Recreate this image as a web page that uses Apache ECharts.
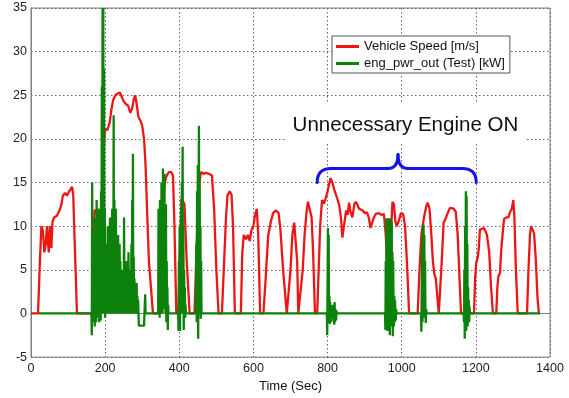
<!DOCTYPE html>
<html>
<head>
<meta charset="UTF-8">
<title>Vehicle speed and engine power</title>
<script src="https://cdn.jsdelivr.net/npm/echarts@6/dist/echarts.min.js"></script>
<style>
  html, body { margin: 0; padding: 0; background: #fff; }
  #main { width: 569px; height: 398px; }
</style>
</head>
<body>
<div id="main"></div>
<script>
// vehicle speed [m/s], pairs of [time s, value]
var speedData = [
  [0,0],[19,0],[24,6],[28,10],[32,9.5],[36,7],[40,8],[43,10],[46,8],[48,7],[51,10],[53,9],[55,7.5],[58,10.5],
  [62,11],[70,11.2],[77,11.8],[82,12.5],[86,13.5],[92,13.8],[97,13.5],[103,14],[108,13.8],[111,14.5],[114,13.5],
  [118,8],[124,0],[165,0],[169,10],[172,11.9],[175,11.8],[178,11.3],[181,12],[184,9],[186,7],[190,12],[195,18],
  [200,21.2],[206,21],[212,21.8],[217,23.4],[222,24.5],[228,25],[234,25.2],[240,25.3],[245,24.8],[250,24.3],
  [256,24],[262,23.8],[268,23],[273,23.5],[277,24.5],[281,25],[285,24],[290,22.5],[296,22],[300,21.5],[305,20],
  [309,17],[313,12],[318,6],[329,0],[347,0],[352,7],[357,13],[361,15],[366,15.8],[372,16.2],[378,16.2],[383,15.8],
  [387,10],[392,0],[398,0],[402,8],[406,13.2],[410,13],[414,12.5],[420,6],[428,0],[441,0],[447,8],[452,14],
  [458,16.2],[465,16],[472,16.1],[480,16],[488,15.8],[494,12],[500,5],[506,0],[515,0],[521,6],[526,11],[530,13.5],
  [536,14],[541,13.6],[545,10],[550,0],[566,0],[570,7],[574,9],[580,8.5],[585,9],[590,8.3],[595,9.6],[600,10],
  [604,11.2],[609,12],[613,9],[618,0],[627,0],[633,4],[640,9],[647,10.5],[653,11.5],[660,11.8],[664,11.9],
  [668,11.5],[673,9.5],[680,5],[690,0],[694,0],[700,5],[705,9],[710,10.4],[714,10.2],[718,6],[721,0],[726,0],
  [733,5],[738,9],[743,11.5],[747,12.8],[752,12.6],[757,11],[761,7],[766,0],[772,0],[776,5],[780,10],[785,13],
  [790,12.6],[795,13.2],[800,14],[804,14.8],[808,15.5],[813,15],[818,14.2],[822,14],[826,13.2],[831,12.5],
  [836,11],[840,8.7],[845,10.3],[850,11.8],[854,11.3],[858,12.7],[862,11.6],[867,11],[872,12.5],[876,12.8],
  [880,12.5],[885,12],[890,12.2],[895,11.8],[900,11.5],[906,11.6],[911,11],[916,9.8],[921,10.5],[925,11],
  [930,11.4],[938,11.5],[945,11.3],[952,11.4],[957,9],[962,4],[966,0],[969,4],[972,10],[975,12.8],[979,12.5],
  [983,10.5],[987,10],[992,10.6],[998,11.5],[1004,11.4],[1009,10],[1014,6],[1020,0],[1043,0],[1048,5],[1053,9],
  [1060,11],[1066,12.2],[1070,12.7],[1075,12],[1080,9],[1084,6],[1088,4.5],[1092,4],[1096,2],[1100,0],[1103,0],
  [1108,6],[1113,10.4],[1118,10.8],[1124,11.5],[1130,12.1],[1135,12.3],[1140,12],[1146,11.6],[1151,9],[1156,4],
  [1160,0],[1195,0],[1198,4],[1201,5.8],[1205,6.4],[1208,7.5],[1211,9.6],[1216,9.8],[1222,9.8],[1226,9.4],
  [1230,9],[1236,7],[1241,3],[1246,0],[1255,0],[1258,3],[1261,4.3],[1265,4.6],[1268,7],[1272,9],[1276,10.8],
  [1282,11],[1288,11],[1292,11.6],[1297,12],[1301,13],[1304,11],[1308,5],[1313,0],[1338,0],[1342,5],[1346,9],
  [1349,10],[1353,9.8],[1357,9.2],[1362,6],[1366,2],[1370,0]
];

// engine power [kW], one small array per burst
var pwrStart = [[20,0],[163,0]];
var pwrBurst1 = [
  [164,-2.5],[165,15],[166,-1],[167,4],[168,0],[169,9],[170,-0.5],[171,3],[172,-1.5],[173,11],[174,1],[175,5],
  [176,-1],[177,13],[178,0],[179,4],[180,-0.5],[181,7],[182,1],[183,12],[184,-1],[185,3],[186,0],[187,6],
  [188,-0.8],[189,14],[190,2],[191,26],[192,0],[193,35],[194,5],[195,35],[196,3],[197,28],[198,0],[199,12],
  [200,-0.5],[201,5],[202,0.5],[203,8],[204,0],[205,6],[206,1],[207,10],[208,0],[209,4],[210,0.5],[211,9],
  [212,0],[213,11],[214,2],[215,7],[216,0],[217,5],[218,1],[219,12],[220,0],[221,8],[222,1],[223,22.7],[224,2],
  [225,13],[226,0],[227,9],[228,2],[229,12],[230,1],[231,7],[232,0],[233,5],[234,1],[235,9],[236,0.5],[237,4],
  [238,0],[239,8],[240,1],[241,6],[242,0],[243,4],[244,1],[245,5],[246,0],[247,3.5],[248,0.5],[249,4],[250,0],
  [251,11],[252,2],[253,5],[254,0.5],[255,4],[256,0],[257,6],[258,1],[259,5],[260,0],[261,4.5],[262,0.5],
  [263,7],[264,0],[265,4],[266,0.5],[267,5],[268,0],[269,4],[270,1],[271,8],[272,0],[273,13],[274,2],[275,18.3],
  [276,0],[277,6.5],[278,1],[279,4],[280,0],[281,3],[282,0.5],[283,2],[284,0],[285,3.5],[286,0],[287,2],
  [288,0.5],[289,1.5],[290,0],[291,-1.4],[305,-1.4],[306,0],[308,2.2],[309,0]
];
var pwrBurst2 = [
  [343,0],[344,12],[345,0],[346,5],[347,-0.5],[348,13],[349,1],[350,8],[351,0],[352,15],[353,2],[354,10],
  [355,0],[356,16.6],[357,3],[358,12],[359,0.5],[360,16],[361,4],[362,9],[363,0],[364,12.5],[365,-1],[366,6],
  [367,0],[368,3],[369,-1.9],[370,1],[371,0]
];
var pwrBurst3 = [
  [397,0],[398,-2],[399,6],[400,0],[401,10],[402,-2],[403,8],[404,1],[405,12],[406,0],[407,15],[408,2],
  [409,19.1],[410,0],[411,10],[412,-1.9],[413,5],[414,0],[415,3],[416,-0.5],[417,1],[418,0]
];
var pwrBurst4 = [
  [445,0],[446,8],[447,-1],[448,14],[449,0],[450,17],[451,-2.9],[452,12],[453,21.5],[454,2],[455,15],[456,0],
  [457,10],[458,-0.6],[459,6],[460,0]
];
var pwrBurst5 = [
  [798,0],[799,-2.5],[800,3],[801,9.8],[802,2],[803,9],[804,-1],[805,2],[806,-1.2],[807,1.3],[808,-0.5],
  [809,0.8],[810,-1],[811,0.6],[812,0],[814,1],[815,-0.6],[816,0.5],[818,-1.3],[819,1.3],[820,-1],[821,0.5],
  [823,-0.8],[824,0.3],[826,0]
];
var pwrBurst6 = [
  [955,0],[956,-1.9],[957,6],[958,-1],[959,10.9],[960,0],[961,9],[962,-2],[963,10.5],[964,1],[965,10.9],
  [966,-1],[967,8],[968,-2.5],[969,10.9],[970,0],[971,9.5],[972,-1.5],[973,10.5],[974,0],[975,7],[976,-2.6],
  [977,6],[978,1],[979,-1.5],[980,2],[981,-1],[982,1.5],[983,0],[984,-0.8],[985,0.5],[986,0]
];
var pwrBurst7 = [
  [1052,0],[1053,-2.1],[1054,3],[1055,8],[1056,-1],[1057,10],[1058,2],[1059,10.2],[1060,0],[1061,9],
  [1062,-0.5],[1063,6],[1064,0],[1065,-1.1],[1066,0.5],[1067,0]
];
var pwrBurst8 = [
  [1167,0],[1168,-1],[1169,5],[1170,-2.9],[1171,10],[1172,0],[1173,14],[1174,-2],[1175,13.5],[1176,1],
  [1177,8],[1178,-1.5],[1179,3],[1180,-0.5],[1181,1.5],[1182,-1],[1183,0.8],[1184,0]
];
var pwrEnd = [[1373,0]];

var powerData = [].concat(pwrStart, pwrBurst1, pwrBurst2, pwrBurst3, pwrBurst4,
  pwrBurst5, pwrBurst6, pwrBurst7, pwrBurst8, pwrEnd);

var seriesNames = ['Vehicle Speed [m/s]', 'eng_pwr_out (Test) [kW]'];

// annotation: brace over the "engine on" stretch
var braceFrom = 772, braceMid = 990, braceTo = 1201;
var braceEndY = 15, braceFlatY = 16.6, braceTipY = 18.2;

var font = 'Liberation Sans, Arial, sans-serif';
var myChart = echarts.init(document.getElementById('main'));

var option = {
  animation: false,
  backgroundColor: '#fff',
  grid: {
    left: 31, top: 8, right: 19, bottom: 36,
    show: true, borderColor: '#808080', borderWidth: 1
  },
  legend: {
    data: seriesNames,
    orient: 'vertical',
    left: 332, top: 36,
    backgroundColor: '#fff',
    borderColor: '#555', borderWidth: 1, borderRadius: 0,
    padding: [3, 5, 2, 4],
    itemGap: 2,
    itemWidth: 23, itemHeight: 3,
    icon: 'rect',
    textStyle: { fontFamily: font, fontSize: 13, color: '#111', lineHeight: 15 }
  },
  xAxis: {
    type: 'value', min: 0, max: 1400, interval: 200,
    name: 'Time (Sec)', nameLocation: 'middle', nameGap: 16,
    nameTextStyle: { fontFamily: font, fontSize: 13, color: '#111' },
    axisLine: { show: true, lineStyle: { color: '#808080' } },
    axisTick: { show: false },
    axisLabel: { fontFamily: font, fontSize: 12.5, color: '#222', margin: 5,
                 formatter: function (v) { return String(v); } },
    splitLine: { show: true, lineStyle: { color: '#666', type: [1.5, 2.5], width: 1 } }
  },
  yAxis: {
    type: 'value', min: -5, max: 35, interval: 5,
    axisLine: { show: true, lineStyle: { color: '#808080' } },
    axisTick: { show: false },
    axisLabel: { fontFamily: font, fontSize: 12.5, color: '#222', margin: 4 },
    splitLine: { show: true, lineStyle: { color: '#666', type: [1.5, 2.5], width: 1 } }
  },
  series: [
    {
      name: seriesNames[0], type: 'line', data: speedData,
      symbol: 'none', lineStyle: { color: '#ee1515', width: 2.3 },
      itemStyle: { color: '#ee1515' }
    },
    {
      name: seriesNames[1], type: 'line', data: powerData,
      symbol: 'none', lineStyle: { color: '#0c820c', width: 2.3 },
      itemStyle: { color: '#0c820c' }
    }
  ]
};
myChart.setOption(option);

function px(t, v) { return myChart.convertToPixel({ gridIndex: 0 }, [t, v]); }

var L = px(braceFrom, braceEndY), M = px(braceMid, braceTipY), R = px(braceTo, braceEndY);
var yF = px(braceMid, braceFlatY)[1];
var r = L[1] - yF;
var braceStyle = { stroke: '#1414e6', lineWidth: 3, fill: null, lineCap: 'round' };
var boxA = px(685, 24.2), boxB = px(1338, 19.5);
var textPos = px(1010, 21.6);

myChart.setOption({
  graphic: [
    { type: 'rect', z: 10, silent: true,
      shape: { x: boxA[0], y: boxA[1], width: boxB[0] - boxA[0], height: boxB[1] - boxA[1] },
      style: { fill: '#fff' } },
    { type: 'text', z: 11, x: textPos[0], y: textPos[1],
      style: { text: 'Unnecessary Engine ON', fontFamily: font, fontSize: 20.5, fill: '#111',
               align: 'center', verticalAlign: 'middle' } },
    { type: 'bezierCurve', z: 12, shape: { x1: L[0], y1: L[1], cpx1: L[0], cpy1: yF, x2: L[0] + r, y2: yF }, style: braceStyle },
    { type: 'line', z: 12, shape: { x1: L[0] + r, y1: yF, x2: M[0] - 10, y2: yF }, style: braceStyle },
    { type: 'bezierCurve', z: 12, shape: { x1: M[0] - 10, y1: yF, cpx1: M[0], cpy1: yF, x2: M[0], y2: M[1] }, style: braceStyle },
    { type: 'bezierCurve', z: 12, shape: { x1: M[0], y1: M[1], cpx1: M[0], cpy1: yF, x2: M[0] + 10, y2: yF }, style: braceStyle },
    { type: 'line', z: 12, shape: { x1: M[0] + 10, y1: yF, x2: R[0] - r, y2: yF }, style: braceStyle },
    { type: 'bezierCurve', z: 12, shape: { x1: R[0] - r, y1: yF, cpx1: R[0], cpy1: yF, x2: R[0], y2: R[1] }, style: braceStyle }
  ]
});
</script>
</body>
</html>
